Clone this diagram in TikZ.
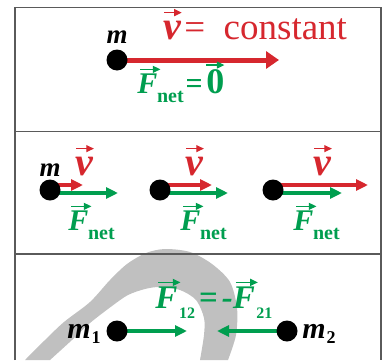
\documentclass[tikz,border=0pt]{standalone}
\usepackage{fontspec}
\setmainfont{Liberation Serif}
\usetikzlibrary{arrows.meta,backgrounds}

\definecolor{vred}{RGB}{214,39,46}
\definecolor{fgreen}{RGB}{0,158,79}
\definecolor{bandgray}{RGB}{192,192,192}
\definecolor{framegray}{RGB}{90,90,90}

% small arrow over a letter: #1 xshift, #2 yshift, #3 letter
\newcommand{\vecsym}[3]{\tikz[baseline=(L.base)]{\node[inner sep=0pt,outer sep=0pt] (L) {#3};
  \draw[line width=0.6pt,-{Triangle[length=3.8pt,width=3.5pt]}] ([xshift=#1,yshift=#2]L.north west) -- ([xshift=#1,yshift=#2]L.north east);}}
\newcommand{\bi}{\bfseries\itshape}
\newcommand{\velv}{{\fontsize{20}{20}\selectfont\vecsym{0.3pt}{4pt}{\bi v}}}
\newcommand{\Fnet}{{\fontsize{15}{15}\selectfont\vecsym{1.5pt}{2pt}{\bi F}}\kern-2pt\raisebox{-4.5pt}{\fontsize{10}{10}\selectfont\bfseries net}}
\newcommand{\Fsub}[1]{{\fontsize{16.5}{16}\selectfont\vecsym{1.5pt}{2pt}{\bi F}}\kern-1pt\raisebox{-5pt}{\fontsize{8}{8}\selectfont\bfseries #1}}

\tikzset{
  mass/.style={circle,fill=black,inner sep=0pt,minimum size=10.5pt},
  masslabel/.style={inner sep=0pt,font=\fontsize{13.5}{14}\selectfont\bi},
  vlabel/.style={inner sep=0pt,text=vred,font=\fontsize{18.5}{20}\selectfont},
  flabel/.style={inner sep=0pt,text=fgreen,font=\fontsize{15}{16}\selectfont\bfseries},
  bigvel/.style={vred,line width=2.5pt,-{Triangle[length=6.5pt,width=8.5pt]}},
  vel/.style={vred,line width=1.8pt,-{Triangle[length=6pt,width=5.5pt]}},
  force/.style={fgreen,line width=1.8pt,-{Triangle[length=6pt,width=5.5pt]}},
  frameline/.style={framegray,line width=0.8pt}
}

\begin{document}
\begin{tikzpicture}[x=0.5pt,y=0.5pt]

\useasboundingbox (0,0) rectangle (384,360);

% grey band behind the lower panel
\begin{pgfonlayer}{background}
\fill [bandgray] plot [smooth] coordinates {(25,0) (45,20) (64,38) (90,58) (110,80) (127,96) (146,107) (165,111) (190,108) (212,96) (230,78) (237,52) (236,25) (228,0)}
  -- plot [smooth] coordinates {(200,0) (204,25) (204,42) (196,60) (180,70) (160,73) (145,71) (128,65) (112,54) (90,37) (72,20) (50,0)} -- cycle;
\end{pgfonlayer}

% frame
\draw [frameline] (15,0) -- (15,352.5) -- (381,352.5) -- (381,0);
\draw [frameline] (15,228.5) -- (381,228.5);
\draw [frameline] (15,106) -- (381,106);

% top panel
\node [mass] (dotA) at (117,300) {};
\node [masslabel] (labA) at (117,323) {m};
\coordinate (tipA) at (279,300);
\node [vlabel,anchor=base west] (velA) at (163,321) {\velv\kern1pt=\hspace{0.5em}constant};
\node [flabel,anchor=base west] (fnetA) at (137,267) {\Fnet\kern1pt=\kern1.5pt{\fontsize{18}{18}\selectfont\vecsym{0pt}{2pt}{\bfseries 0}}};

% middle panel
\node [mass] (dotB) at (50,170) {};
\node [mass] (dotC) at (160,170) {};
\node [mass] (dotD) at (273,170) {};
\node [masslabel] (labB) at (50,190) {m};
\coordinate (vtipB) at (83,175);
\coordinate (vtipC) at (212,175);
\coordinate (vtipD) at (368,175);
\coordinate (ftipB) at (118,167);
\coordinate (ftipC) at (228,167);
\coordinate (ftipD) at (342,167);
\node [vlabel,anchor=base] (velB) at (85,185) {\velv};
\node [vlabel,anchor=base] (velC) at (195,185) {\velv};
\node [vlabel,anchor=base] (velD) at (323,185) {\velv};
\node [flabel,anchor=base west] (fnetB) at (68,130) {\Fnet};
\node [flabel,anchor=base west] (fnetC) at (180,130) {\Fnet};
\node [flabel,anchor=base west] (fnetD) at (293,130) {\Fnet};

% bottom panel
\node [mass] (dotE) at (117,29) {};
\node [mass] (dotF) at (287,29) {};
\node [masslabel,font=\fontsize{15}{15}\selectfont\bi,anchor=base west] (labE) at (67,22) {m\kern0.5pt\raisebox{-2.5pt}{\fontsize{9}{9}\selectfont\bfseries\upshape 1}};
\node [masslabel,font=\fontsize{15}{15}\selectfont\bi,anchor=base west] (labF) at (302,22) {m\kern0.5pt\raisebox{-2.5pt}{\fontsize{9}{9}\selectfont\bfseries\upshape 2}};
\coordinate (ftipE) at (187,29);
\coordinate (ftipF) at (217,29);
\node [flabel,font=\fontsize{16.5}{16}\selectfont\bfseries,anchor=base west] (fpair) at (155,52) {\Fsub{12}\kern2pt=\kern2pt{\bi -}\Fsub{21}};

% arrows start under the dots
\begin{pgfonlayer}{background}
\draw [bigvel] (dotA.center) -- (tipA);
\draw [vel] ([yshift=2.5pt]dotB.center) -- (vtipB);
\draw [force] ([yshift=-1.5pt]dotB.center) -- (ftipB);
\draw [vel] ([yshift=2.5pt]dotC.center) -- (vtipC);
\draw [force] ([yshift=-1.5pt]dotC.center) -- (ftipC);
\draw [vel] ([yshift=2.5pt]dotD.center) -- (vtipD);
\draw [force] ([yshift=-1.5pt]dotD.center) -- (ftipD);
\draw [force] (dotE.center) -- (ftipE);
\draw [force] (dotF.center) -- (ftipF);
\end{pgfonlayer}

\end{tikzpicture}
\end{document}
